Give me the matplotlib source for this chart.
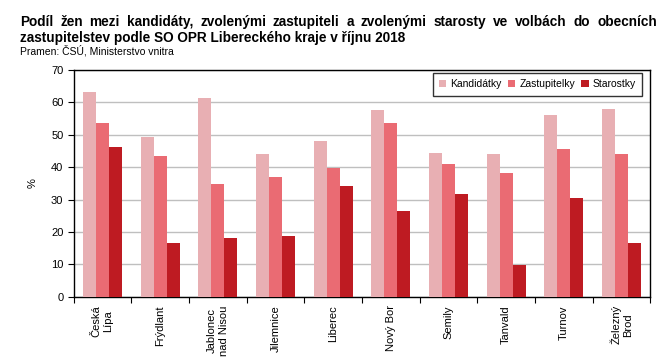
import matplotlib.pyplot as plt
import numpy as np

plt.rcParams['font.family'] = ['Liberation Sans', 'DejaVu Sans']

okresy = ["Česká\nLípa", "Frýdlant", "Jablonec\nnad Nisou", "Jilemnice", "Liberec",
          "Nový Bor", "Semily", "Tanvald", "Turnov", "Železný\nBrod"]
kandidatky = [63.2, 49.3, 61.4, 44.1, 48.1, 57.7, 44.4, 44.1, 56.1, 58.0]
zastupitelky = [53.6, 43.5, 34.8, 37.0, 39.8, 53.6, 41.0, 38.2, 45.6, 44.1]
starostky = [46.3, 16.7, 18.2, 18.8, 34.2, 26.5, 31.8, 9.9, 30.5, 16.7]

series = [("Kandidátky", kandidatky, "#E8AFB3"),
          ("Zastupitelky", zastupitelky, "#EA6B73"),
          ("Starostky", starostky, "#BE1B22")]

fig = plt.figure(figsize=(6.71, 3.62), dpi=100)
ax = fig.add_axes([0.110, 0.180, 0.859, 0.627])

x = np.arange(len(okresy))
w = 0.226
for i, (name, vals, col) in enumerate(series):
    ax.bar(x + (i - 1) * w, vals, w, color=col, label=name, zorder=3)

ax.set_xlim(-0.5, len(okresy) - 0.5)
ax.set_ylim(0, 70)
ax.set_yticks(range(0, 71, 10))
ax.yaxis.grid(True, color="#BFBFBF", linewidth=1, zorder=0)
ax.set_xticks(np.arange(-0.5, len(okresy), 1))
ax.set_xticklabels([])
ax.set_xticks(x, minor=True)
ax.set_xticklabels(okresy, minor=True, rotation=90, fontsize=8, ha="center", va="top",
                   multialignment="center")
ax.tick_params(axis="x", which="minor", length=0, pad=6)
ax.tick_params(axis="x", which="major", length=4, direction="out")
ax.tick_params(axis="y", labelsize=8, length=4, direction="out")
for s in ax.spines.values():
    s.set_color("black")
    s.set_linewidth(1)
ax.set_ylabel("%", fontsize=8, labelpad=10)

leg = ax.legend(loc="upper right", ncol=3, fontsize=7.5, frameon=True, fancybox=False,
                handlelength=0.7, handleheight=0.7, handletextpad=0.4, columnspacing=0.6,
                borderpad=0.6, borderaxespad=0.2, bbox_to_anchor=(0.99, 0.995))
leg.get_frame().set_edgecolor("black")
leg.get_frame().set_linewidth(1)

# first title line is justified across the figure width
line1 = "Podíl žen mezi kandidáty, zvolenými zastupiteli a zvolenými starosty ve volbách do obecních"
x0, x1 = 20, 657
words = line1.split()
renderer = fig.canvas.get_renderer()
texts = [fig.text(0, 0.938, wd, fontsize=9.8, fontweight="bold", va="center") for wd in words]
widths = [t.get_window_extent(renderer).width for t in texts]
gap = (x1 - x0 - sum(widths)) / (len(words) - 1)
pos = x0
for t, wpx in zip(texts, widths):
    t.set_x(pos / 671)
    pos += wpx + gap

fig.text(x0 / 671, 0.895, "zastupitelstev podle SO OPR Libereckého kraje v říjnu 2018",
         fontsize=9.8, fontweight="bold", va="center")
fig.text(x0 / 671, 0.860, "Pramen: ČSÚ, Ministerstvo vnitra", fontsize=7.5, va="center")

fig.savefig("out.png", dpi=100)
